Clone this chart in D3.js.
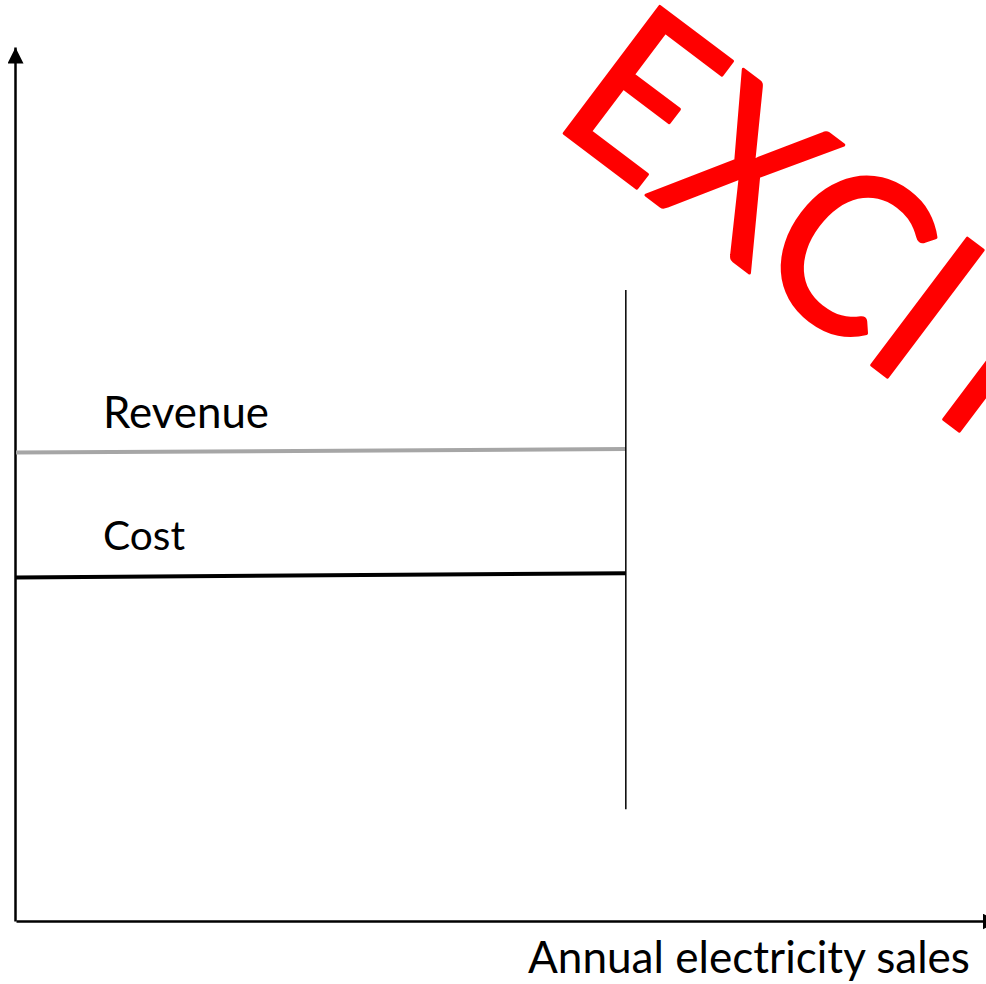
<!DOCTYPE html>
<html>
<head>
<meta charset="utf-8">
<script src="https://cdn.jsdelivr.net/npm/d3@7"></script>
<style>
  body { margin: 0; background: #fff; }
  svg { display: block; }
</style>
</head>
<body>
<div id="grafico"></div>
<script>
// Datos
const ventas = [0, 62.1];          // ventas anuales: inicio y fin de las lineas
const ingresos = [53.6, 54.0];     // Revenue
const costos = [39.3, 39.8];       // Cost
const limiteVentas = 62.1;         // linea vertical
const limiteRango = [12.8, 72.2];  // extremos de la linea vertical
const etiquetas = ['Revenue', 'Cost'];
const tituloX = 'Annual electricity sales';
const marcaAgua = 'EXCITING';

const width = 986;
const height = 984;

const svg = d3.select('#grafico').append('svg')
  .attr('width', width)
  .attr('height', height);

// Escalas
const x = d3.scaleLinear().domain([0, 100]).range([16, 998]);
const y = d3.scaleLinear().domain([0, 100]).range([921, 47]);

// Flecha para los ejes
svg.append('defs').append('marker')
  .attr('id', 'flecha')
  .attr('markerUnits', 'userSpaceOnUse')
  .attr('markerWidth', 16)
  .attr('markerHeight', 16)
  .attr('refX', 16)
  .attr('refY', 8)
  .attr('orient', 'auto')
  .append('path')
  .attr('d', 'M0,0 L16,8 L0,16 Z')
  .attr('fill', '#000');

// Ejes sin marcas
const ejeX = svg.append('g')
  .attr('transform', `translate(0, ${y(0)})`)
  .call(d3.axisBottom(x).tickValues([]).tickSizeOuter(0));

const ejeY = svg.append('g')
  .attr('transform', `translate(${x(0) - 1}, 0)`)
  .call(d3.axisLeft(y).tickValues([]).tickSizeOuter(0));

[ejeX, ejeY].forEach(eje => {
  eje.select('.domain')
    .attr('stroke', '#000')
    .attr('stroke-width', 2.5)
    .attr('marker-end', 'url(#flecha)');
});

// Lineas de ingresos y costos
const linea = d3.line()
  .x(d => x(d[0]))
  .y(d => y(d[1]));

svg.append('path')
  .datum(d3.zip(ventas, ingresos))
  .attr('d', linea)
  .attr('fill', 'none')
  .attr('stroke', '#a6a6a6')
  .attr('stroke-width', 4);

svg.append('path')
  .datum(d3.zip(ventas, costos))
  .attr('d', linea)
  .attr('fill', 'none')
  .attr('stroke', '#000')
  .attr('stroke-width', 4);

// Linea vertical
svg.append('line')
  .attr('x1', x(limiteVentas))
  .attr('x2', x(limiteVentas))
  .attr('y1', y(limiteRango[0]))
  .attr('y2', y(limiteRango[1]))
  .attr('stroke', '#000')
  .attr('stroke-width', 1.5);

// Ajustar el tamaño de letra a un ancho dado
function ajustarAncho(texto, ancho) {
  const largo = texto.node().getComputedTextLength();
  const tam = parseFloat(texto.attr('font-size'));
  texto.attr('font-size', tam * ancho / largo);
}

// Etiquetas de las lineas
const posEtiquetas = [ingresos[0], costos[0]];
const desplazamiento = [25, 28];
etiquetas.forEach((etiqueta, i) => {
  const t = svg.append('text')
    .attr('x', 103)
    .attr('y', y(posEtiquetas[i]) - desplazamiento[i])
    .attr('font-family', 'Lato, sans-serif')
    .attr('font-size', 40)
    .attr('fill', '#000')
    .text(etiqueta);
  ajustarAncho(t, i === 0 ? 166 : 82);
});

// Titulo del eje X
const tX = svg.append('text')
  .attr('x', 528)
  .attr('y', 973)
  .attr('font-family', 'Lato, sans-serif')
  .attr('font-size', 40)
  .attr('fill', '#000')
  .text(tituloX);
ajustarAncho(tX, 442);

// Marca de agua roja (cortada por el borde, como en el original)
svg.append('text')
  .attr('transform', 'translate(549, 122) rotate(37) scale(0.93, 1)')
  .attr('font-family', 'Lato, sans-serif')
  .attr('font-size', 222)
  .attr('fill', '#ff0000')
  .attr('stroke', '#ff0000')
  .attr('stroke-width', 3)
  .attr('stroke-linejoin', 'round')
  .text(marcaAgua);
</script>
</body>
</html>
